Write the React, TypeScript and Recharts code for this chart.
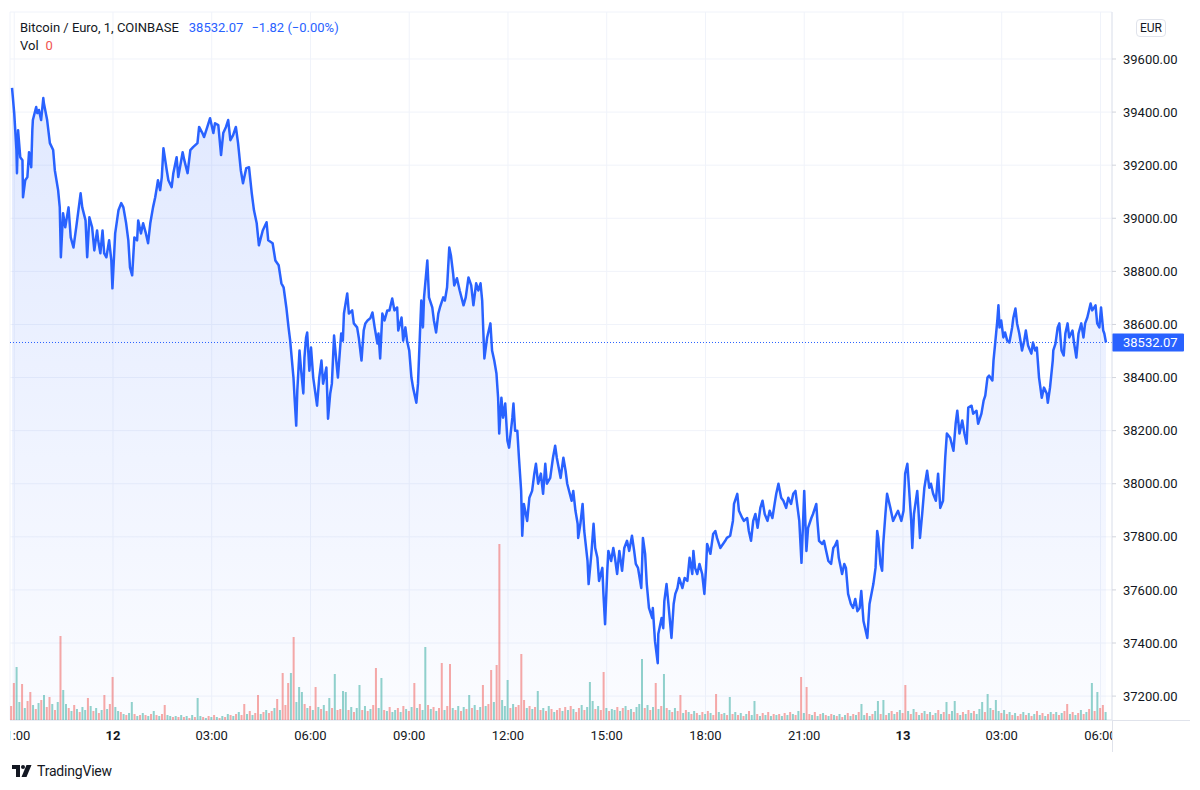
import React from 'react'
import {
  ComposedChart,
  Area,
  Bar,
  Cell,
  XAxis,
  YAxis,
  CartesianGrid,
  ReferenceLine,
} from 'recharts'

// BTC/EUR 1m, COINBASE. [minutes since 11th 21:00, price]
const pricePath: [number, number][] = [
  [-4, 39491], [0, 39396], [4, 39257], [5, 39170], [7, 39332], [11, 39230], [15, 39219], [16, 39079],
  [20, 39143], [24, 39155], [27, 39249], [31, 39192], [33, 39332], [34, 39370], [40, 39419], [42, 39396],
  [45, 39408], [49, 39370], [53, 39453], [54, 39434], [60, 39370], [65, 39283], [71, 39257], [74, 39181],
  [80, 39106], [83, 39041], [85, 38853], [89, 39019], [93, 38966], [99, 39041], [103, 38928], [108, 38890],
  [113, 38966], [121, 39094], [124, 39041], [130, 38992], [133, 38853], [137, 39004], [142, 38966], [146, 38879],
  [151, 38954], [153, 38917], [157, 38868], [161, 38954], [164, 38868], [168, 38853], [173, 38917], [177, 38841],
  [179, 38736], [184, 38943], [190, 39030], [195, 39057], [199, 39041], [204, 38981], [208, 38917], [211, 38815],
  [215, 38785], [219, 38928], [224, 38917], [226, 38992], [231, 38943], [235, 38981], [240, 38943], [244, 38906],
  [248, 38981], [253, 39041], [257, 39079], [260, 39117], [262, 39143], [266, 39106], [269, 39155], [272, 39264],
  [278, 39181], [281, 39143], [287, 39117], [290, 39170], [296, 39230], [299, 39155], [307, 39249], [310, 39219],
  [316, 39170], [321, 39257], [326, 39268], [334, 39283], [337, 39344], [343, 39321], [346, 39306], [352, 39344],
  [357, 39377], [363, 39321], [366, 39358], [372, 39351], [377, 39238], [381, 39321], [386, 39344], [390, 39370],
  [394, 39294], [399, 39313], [404, 39344], [408, 39283], [413, 39181], [417, 39132], [423, 39189], [428, 39192],
  [433, 39094], [437, 39030], [442, 38981], [446, 38898], [453, 38954], [460, 38985], [463, 38917], [471, 38906],
  [476, 38841], [482, 38823], [487, 38755], [491, 38740], [496, 38664], [500, 38589], [503, 38539], [509, 38400],
  [511, 38324], [514, 38219], [516, 38351], [520, 38502], [523, 38426], [527, 38340], [529, 38475], [532, 38551],
  [534, 38570], [538, 38426], [541, 38513], [545, 38400], [549, 38340], [552, 38294], [556, 38400], [560, 38464],
  [563, 38377], [569, 38438], [572, 38245], [576, 38340], [579, 38377], [583, 38558], [587, 38464], [590, 38400],
  [596, 38566], [599, 38539], [601, 38641], [607, 38717], [610, 38641], [616, 38653], [619, 38604], [625, 38589],
  [628, 38551], [633, 38464], [637, 38577], [640, 38604], [644, 38615], [649, 38623], [653, 38645], [657, 38589],
  [662, 38528], [664, 38566], [667, 38472], [671, 38641], [675, 38615], [680, 38653], [684, 38653], [689, 38698],
  [693, 38653], [698, 38664], [700, 38577], [706, 38626], [709, 38539], [713, 38589], [716, 38539], [720, 38502],
  [724, 38400], [727, 38362], [733, 38305], [736, 38377], [740, 38589], [742, 38690], [745, 38589], [747, 38702],
  [753, 38841], [756, 38702], [762, 38664], [765, 38615], [769, 38570], [773, 38641], [776, 38664], [782, 38702],
  [785, 38690], [789, 38740], [793, 38890], [796, 38860], [800, 38792], [802, 38747], [807, 38774], [812, 38728],
  [819, 38672], [823, 38702], [828, 38777], [833, 38747], [837, 38672], [842, 38755], [846, 38728], [850, 38755],
  [853, 38690], [855, 38577], [857, 38472], [862, 38551], [868, 38604], [871, 38502], [875, 38464], [879, 38415],
  [882, 38324], [884, 38189], [888, 38324], [891, 38249], [895, 38302], [899, 38162], [902, 38136], [908, 38249],
  [910, 38302], [913, 38200], [917, 38200], [920, 38098], [924, 37973], [926, 37804], [929, 37924], [935, 37860],
  [939, 37947], [944, 37973], [948, 38038], [951, 38075], [955, 38000], [960, 38038], [964, 37962], [968, 38075],
  [971, 38000], [977, 38022], [982, 38098], [986, 38143], [989, 38098], [996, 38022], [1001, 38098], [1005, 38049],
  [1008, 38000], [1016, 37936], [1019, 37973], [1023, 37898], [1027, 37849], [1028, 37796], [1032, 37849], [1036, 37924],
  [1039, 37822], [1045, 37709], [1047, 37622], [1052, 37736], [1056, 37849], [1059, 37758], [1063, 37721], [1066, 37634],
  [1072, 37683], [1074, 37585], [1077, 37471], [1081, 37672], [1083, 37747], [1088, 37709], [1092, 37758], [1095, 37721],
  [1099, 37660], [1103, 37747], [1108, 37672], [1112, 37758], [1117, 37785], [1121, 37747], [1126, 37804], [1130, 37747],
  [1133, 37698], [1137, 37683], [1143, 37607], [1146, 37796], [1150, 37736], [1153, 37622], [1157, 37532], [1163, 37494],
  [1164, 37532], [1168, 37407], [1173, 37324], [1174, 37434], [1180, 37494], [1183, 37456], [1185, 37558], [1189, 37622],
  [1192, 37558], [1198, 37419], [1202, 37547], [1205, 37585], [1209, 37607], [1212, 37645], [1218, 37607], [1222, 37645],
  [1227, 37634], [1231, 37721], [1236, 37660], [1238, 37747], [1241, 37683], [1245, 37660], [1249, 37698], [1254, 37660],
  [1258, 37585], [1261, 37683], [1263, 37773], [1269, 37736], [1274, 37811], [1278, 37822], [1281, 37796], [1287, 37758],
  [1292, 37773], [1296, 37785], [1299, 37796], [1305, 37804], [1310, 37860], [1312, 37924], [1318, 37962], [1321, 37898],
  [1327, 37871], [1330, 37860], [1336, 37871], [1339, 37822], [1343, 37785], [1347, 37860], [1351, 37886], [1355, 37834],
  [1360, 37909], [1364, 37936], [1368, 37886], [1373, 37860], [1377, 37898], [1382, 37871], [1386, 37924], [1389, 37962],
  [1393, 38000], [1398, 37947], [1402, 37936], [1407, 37909], [1411, 37947], [1416, 37924], [1420, 37962], [1424, 37973],
  [1427, 37924], [1431, 37860], [1435, 37702], [1438, 37860], [1440, 37973], [1444, 37747], [1447, 37834], [1453, 37871],
  [1456, 37886], [1462, 37924], [1464, 37860], [1467, 37785], [1473, 37773], [1476, 37785], [1480, 37747], [1484, 37709],
  [1489, 37698], [1493, 37758], [1496, 37766], [1500, 37785], [1503, 37721], [1509, 37660], [1513, 37698], [1516, 37683],
  [1520, 37585], [1525, 37547], [1529, 37532], [1533, 37566], [1537, 37520], [1541, 37532], [1544, 37596], [1548, 37483],
  [1555, 37419], [1559, 37547], [1566, 37622], [1570, 37683], [1573, 37822], [1575, 37796], [1579, 37698], [1582, 37672],
  [1584, 37773], [1588, 37886], [1591, 37962], [1597, 37909], [1602, 37860], [1608, 37886], [1611, 37898], [1617, 37860],
  [1621, 37898], [1624, 38038], [1628, 38075], [1631, 37985], [1635, 37860], [1637, 37758], [1640, 37886], [1646, 37973],
  [1648, 37909], [1651, 37796], [1655, 37886], [1659, 37985], [1664, 38049], [1668, 37985], [1671, 38000], [1675, 37962],
  [1680, 37936], [1684, 38038], [1688, 37909], [1693, 37936], [1697, 38098], [1700, 38189], [1706, 38173], [1712, 38124],
  [1716, 38226], [1719, 38275], [1723, 38189], [1728, 38238], [1732, 38189], [1736, 38151], [1739, 38287], [1745, 38294],
  [1748, 38264], [1754, 38275], [1757, 38226], [1763, 38264], [1767, 38313], [1770, 38332], [1774, 38400], [1777, 38407],
  [1783, 38389], [1785, 38464], [1788, 38528], [1792, 38615], [1794, 38672], [1796, 38589], [1799, 38615], [1803, 38551],
  [1806, 38570], [1810, 38539], [1814, 38532], [1819, 38589], [1821, 38623], [1825, 38660], [1828, 38604], [1832, 38566],
  [1837, 38502], [1841, 38539], [1844, 38577], [1848, 38521], [1854, 38490], [1857, 38532], [1861, 38502], [1864, 38513],
  [1868, 38400], [1873, 38324], [1877, 38362], [1882, 38340], [1884, 38305], [1888, 38362], [1893, 38464], [1894, 38502],
  [1898, 38528], [1902, 38589], [1905, 38604], [1909, 38502], [1913, 38483], [1916, 38566], [1920, 38604], [1923, 38551],
  [1929, 38577], [1932, 38528], [1936, 38475], [1940, 38566], [1945, 38604], [1949, 38551], [1952, 38604], [1956, 38626],
  [1962, 38679], [1965, 38653], [1971, 38672], [1974, 38604], [1978, 38589], [1981, 38664], [1985, 38577], [1987, 38566],
  [1990, 38532.07],
]

// volume per 5-minute bucket, first bucket at -5 min
const volumeStart = -5
const volumeStep = 5
const volume = [
  1.4, 3.7, 5.3, 1.8, 3.6, 1.2, 1.9, 2.8, 1.5, 1.1, 1.7, 2.0, 2.5, 1.3, 2.3, 1.6, 1.0, 1.8, 8.4, 3.0,
  1.6, 1.2, 0.9, 1.5, 1.1, 0.8, 1.3, 1.0, 2.2, 1.4, 0.9, 1.2, 0.7, 1.0, 2.5, 1.1, 1.6, 4.3, 1.3, 0.9,
  0.8, 0.6, 0.5, 0.7, 1.8, 0.6, 0.4, 0.5, 0.7, 0.5, 0.4, 0.6, 0.9, 0.5, 0.4, 0.6, 1.5, 0.5, 0.4, 0.3,
  0.4, 0.3, 0.5, 0.3, 0.4, 0.2, 0.5, 0.3, 2.2, 0.4, 0.3, 0.2, 0.4, 0.3, 0.5, 0.3, 0.2, 0.4, 0.3, 0.6,
  0.5, 0.4, 0.6, 0.8, 0.5, 1.6, 0.6, 0.9, 0.5, 0.7, 2.5, 0.6, 0.8, 1.0, 0.7, 0.9, 1.2, 2.1, 1.0, 4.7,
  1.5, 3.7, 4.7, 8.3, 1.8, 3.3, 2.8, 1.6, 1.2, 1.4, 1.0, 3.3, 1.3, 1.1, 1.5, 0.9, 2.2, 1.2, 4.6, 1.0,
  1.1, 2.9, 2.8, 1.0, 1.3, 0.8, 1.2, 3.5, 1.0, 1.4, 0.9, 1.1, 1.5, 5.2, 1.2, 4.2, 1.0, 0.9, 1.3, 0.8,
  1.0, 1.2, 0.8, 1.4, 1.1, 0.9, 1.3, 3.7, 1.2, 1.6, 1.0, 7.3, 1.5, 1.1, 1.3, 0.9, 1.2, 5.7, 1.0, 1.4,
  5.6, 1.2, 1.0, 1.4, 0.9, 1.3, 1.1, 2.5, 1.2, 1.5, 1.0, 1.3, 3.5, 1.4, 1.6, 5.0, 1.8, 5.5, 17.6, 2.0,
  1.4, 4.0, 1.2, 1.6, 1.3, 1.5, 6.6, 2.0, 1.2, 1.4, 1.1, 1.3, 2.9, 1.0, 1.2, 0.9, 1.4, 1.1, 0.8, 1.0,
  1.2, 0.9, 1.3, 1.0, 1.4, 1.1, 0.8, 1.2, 1.5, 1.0, 1.3, 3.8, 1.9, 1.1, 1.4, 1.0, 4.8, 1.2, 0.9, 1.1,
  1.0, 1.3, 0.9, 1.2, 1.4, 1.0, 1.1, 0.8, 1.3, 1.6, 6.1, 1.2, 1.5, 1.0, 1.3, 3.7, 1.1, 1.4, 4.6, 1.2,
  1.0, 0.8, 1.2, 0.9, 2.5, 0.7, 1.0, 0.8, 0.6, 0.9, 0.7, 0.5, 0.8, 0.6, 0.9, 0.7, 0.5, 2.6, 0.8, 0.6,
  0.7, 0.5, 2.3, 0.6, 0.8, 0.5, 0.7, 0.4, 0.6, 0.9, 0.5, 1.9, 0.6, 0.4, 0.7, 0.5, 0.8, 0.4, 0.6, 0.5,
  0.6, 0.4, 0.7, 0.5, 0.8, 0.6, 0.5, 0.9, 4.3, 0.7, 3.3, 0.6, 0.5, 0.8, 0.4, 0.6, 0.7, 0.5, 0.4, 0.6,
  0.5, 0.4, 0.6, 0.3, 0.5, 0.7, 0.4, 0.6, 0.5, 0.8, 1.6, 0.5, 0.7, 0.4, 0.6, 0.9, 1.9, 0.6, 2.0, 0.5,
  0.7, 0.9, 0.6, 0.8, 1.0, 0.7, 3.5, 0.9, 0.6, 1.1, 0.8, 0.5, 0.7, 0.9, 0.6, 0.8, 0.5, 0.7, 1.0, 0.6,
  0.8, 1.8, 0.6, 0.9, 1.9, 0.7, 0.5, 0.8, 0.6, 1.0, 0.7, 0.9, 0.6, 1.1, 1.8, 0.8, 2.6, 1.2, 1.0, 2.0,
  0.9, 0.7, 1.0, 0.6, 0.8, 0.5, 0.7, 0.4, 0.6, 0.8, 0.5, 0.7, 0.4, 0.6, 0.9, 0.5, 0.7, 0.4, 0.6, 0.8,
  0.6, 0.8, 0.5, 0.7, 0.9, 1.6, 0.6, 0.8, 0.5, 0.7, 1.0, 0.6, 0.8, 1.1, 3.7, 0.9, 2.8, 1.2, 1.5, 0.8,
]
// u = up candle, d = down candle
const volumeSide = `
  dduud uddud ududd ududu  ududu duudu dudud udduu  duduu dudud ududu dduud  ududu duduu dudud ududu
  dudud dudud dudud dudud  ddudu uudud ududu dudud  duudu duudu duddu ududu  ududu dudud uudud uddud
  dudud ududu dudud duddu  uudud dddud ududu dudud  dudud uddud uuudu ddudu  ududu duduu ududu dudud
  ududd ududu dudud uddud  ududu dudud uudud ududu  dudud ududu ddudu dudud  ududu dudud uudud uudud
  ududu ddudu dudud ududu  duduu dudud uduuu duudu  ududu duddu dudud ududu  dudud dudud ududu duddu
`.replace(/\s/g, '')

const timeTicks = [0, 180, 360, 540, 720, 900, 1080, 1260, 1440, 1620, 1800, 1980]
const timeLabels = ['21:00', '12', '03:00', '06:00', '09:00', '12:00', '15:00', '18:00', '21:00', '13', '03:00', '06:00']
const priceTicks = [37200, 37400, 37600, 37800, 38000, 38200, 38400, 38600, 38800, 39000, 39200, 39400, 39600]
const lastPrice = 38532.07

const priceRows = pricePath.map(([t, price]) => ({ t, price }))
const volumeRows = volume.map((v, i) => ({ t: volumeStart + i * volumeStep, vol: v }))

const W = 1200
const H = 790
const MARGIN = { top: 12, right: 0, bottom: 38, left: 10 }
const X_DOMAIN: [number, number] = [-7.7, 2001]
const BLUE = '#2962ff'
const TEXT = '#131722'
const FONT = 'Roboto, "Noto Sans", sans-serif'

function TimeTick({ x, y, payload }: any) {
  const label = timeLabels[timeTicks.indexOf(payload.value)] ?? ''
  const day = label.length === 2
  return (
    <text
      x={x}
      y={y}
      dy={4}
      textAnchor="middle"
      fontSize={13}
      fontFamily={FONT}
      fill={TEXT}
      fontWeight={day ? 700 : 400}
      clipPath="url(#timeClip)"
    >
      {label}
    </text>
  )
}

function LastPriceLabel({ viewBox }: any) {
  if (!viewBox) return null
  const x = viewBox.x + viewBox.width
  return (
    <g>
      <rect x={x} y={viewBox.y - 9} width={72} height={18} fill={BLUE} rx={1} />
      <text x={x + 11} y={viewBox.y} dy={4.5} fontSize={13} fontFamily={FONT} fill="#fff">
        {lastPrice.toFixed(2)}
      </text>
    </g>
  )
}

function Logo() {
  return (
    <div style={{ position: 'absolute', left: 12, top: 763, display: 'flex', alignItems: 'center', gap: 5 }}>
      <svg width="20" height="12" viewBox="0 0 20 12">
        <path d="M0 0h8v12h-4v-8h-4z" fill={TEXT} />
        <circle cx="11" cy="2" r="2" fill={TEXT} />
        <path d="M14.5 0h5l-5 12h-5z" fill={TEXT} />
      </svg>
      <span style={{ fontSize: 14, color: TEXT, fontFamily: FONT, letterSpacing: -0.2 }}>TradingView</span>
    </div>
  )
}

export default function App() {
  return (
    <div style={{ position: 'absolute', left: 0, top: 0, width: W, height: H, background: '#fff', fontFamily: FONT }}>
      <div style={{ position: 'absolute', left: 0, top: 0 }}>
        <ComposedChart width={W} height={H} data={priceRows} margin={MARGIN}>
          <defs>
            <linearGradient id="areaFill" x1="0" y1="0" x2="0" y2="1">
              <stop offset="0%" stopColor={BLUE} stopOpacity={0.24} />
              <stop offset="100%" stopColor={BLUE} stopOpacity={0.03} />
            </linearGradient>
            <clipPath id="timeClip">
              <rect x={10} y={700} width={1102} height={90} />
            </clipPath>
          </defs>
          <CartesianGrid stroke="#f0f3fa" strokeWidth={1} />
          <XAxis
            dataKey="t"
            type="number"
            domain={X_DOMAIN}
            allowDataOverflow
            ticks={timeTicks}
            interval={0}
            height={32}
            tickSize={0}
            tickMargin={16}
            tick={<TimeTick />}
            axisLine={{ stroke: '#e0e3eb' }}
          />
          <YAxis
            orientation="right"
            type="number"
            domain={[37110, 39777]}
            allowDataOverflow
            ticks={priceTicks}
            interval={0}
            width={88}
            tickSize={4}
            tickMargin={7}
            tickLine={{ stroke: '#d1d4dc' }}
            axisLine={{ stroke: '#e0e3eb' }}
            tick={{ fontSize: 13, fill: TEXT, fontFamily: FONT }}
            tickFormatter={(v: number) => v.toFixed(2)}
          />
          <Area
            type="linear"
            dataKey="price"
            stroke={BLUE}
            strokeWidth={2.5}
            strokeLinejoin="round"
            fill="url(#areaFill)"
            isAnimationActive={false}
            dot={false}
            activeDot={false}
          />
          <ReferenceLine
            y={lastPrice}
            stroke={BLUE}
            strokeWidth={1}
            strokeDasharray="1 2"
            label={<LastPriceLabel />}
          />
        </ComposedChart>
      </div>

      <div style={{ position: 'absolute', left: 0, top: 0, pointerEvents: 'none' }}>
        <ComposedChart width={W} height={H} data={volumeRows} margin={{ ...MARGIN, right: 88, bottom: 70 }}>
          <XAxis dataKey="t" type="number" domain={X_DOMAIN} allowDataOverflow hide />
          <YAxis type="number" domain={[0, 70.8]} allowDataOverflow hide />
          <Bar dataKey="vol" barSize={2} isAnimationActive={false}>
            {volumeRows.map((_, i) => (
              <Cell
                key={i}
                fill={volumeSide[i] === 'u' ? 'rgba(38,166,154,0.5)' : 'rgba(239,83,80,0.5)'}
              />
            ))}
          </Bar>
        </ComposedChart>
      </div>

      {/* legend */}
      <div style={{ position: 'absolute', left: 20, top: 20, fontSize: 13, lineHeight: '16px', color: TEXT, whiteSpace: 'nowrap' }}>
        Bitcoin / Euro, 1, COINBASE
        <span style={{ color: BLUE, marginLeft: 10 }}>38532.07</span>
        <span style={{ color: BLUE, marginLeft: 8 }}>−1.82 (−0.00%)</span>
      </div>
      <div style={{ position: 'absolute', left: 20, top: 38, fontSize: 13, lineHeight: '16px', color: TEXT }}>
        Vol<span style={{ color: '#ef5350', marginLeft: 7 }}>0</span>
      </div>

      {/* currency badge */}
      <div
        style={{
          position: 'absolute',
          left: 1136,
          top: 19,
          width: 30,
          height: 18,
          boxSizing: 'border-box',
          border: '1px solid #e0e3eb',
          borderRadius: 4,
          fontSize: 12,
          lineHeight: '16px',
          textAlign: 'center',
          color: TEXT,
        }}
      >
        EUR
      </div>

      {/* time-axis borders */}
      <div style={{ position: 'absolute', left: 1112, top: 720, width: 78, height: 1, background: '#e0e3eb' }} />
      <div style={{ position: 'absolute', left: 1112, top: 720, width: 1, height: 32, background: '#e0e3eb' }} />

      <Logo />
    </div>
  )
}
